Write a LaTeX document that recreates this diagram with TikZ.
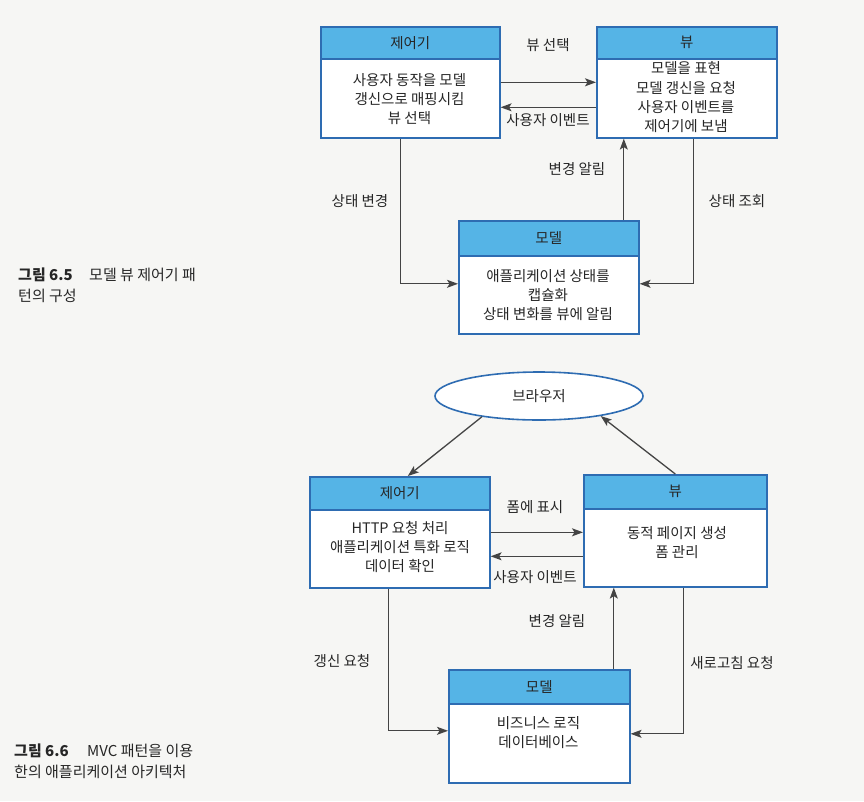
\documentclass[tikz,border=0pt]{standalone}
\usepackage{fontspec}
\setmainfont{Noto Sans CJK KR}
\usetikzlibrary{arrows.meta,shapes.geometric}
\definecolor{hdrblue}{HTML}{55B4E6}
\definecolor{edgeblue}{HTML}{2E6CB2}
\definecolor{ink}{HTML}{262626}
\definecolor{wire}{HTML}{444444}
\definecolor{paper}{HTML}{F6F6F4}
\begin{document}
\begin{tikzpicture}[x=1pt,y=-1pt,
  font=\fontsize{14.5}{19.3}\selectfont, text=ink,
  box/.style={draw=edgeblue, line width=1.6pt, fill=white, anchor=north west, inner sep=0pt},
  hdr/.style={draw=edgeblue, line width=1.6pt, fill=hdrblue, anchor=north west, inner sep=0pt},
  body/.style={align=center, inner sep=0pt},
  flow/.style={draw=wire, line width=1.3pt, -{Stealth[length=11pt,width=8pt,inset=2.5pt]}},
  lbl/.style={inner sep=0pt},
  captext/.style={inner sep=0pt, anchor=west, font=\fontsize{15}{19}\selectfont}
]
\fill[paper] (0,0) rectangle (864,801);
\useasboundingbox (0,0) rectangle (864,801);

% ---------- Figure 6.5: model / view / controller ----------
\node[box, minimum width=179pt, minimum height=111pt] (c1) at (320,26) {};
\node[hdr, minimum width=179pt, minimum height=32pt] (c1h) at (c1.north west) {제어기};
\node[body] (c1t) at (409.5,99) {사용자 동작을 모델\\갱신으로 매핑시킴\\뷰 선택};

\node[box, minimum width=180pt, minimum height=111pt] (v1) at (596,26) {};
\node[hdr, minimum width=180pt, minimum height=32pt] (v1h) at (v1.north west) {뷰};
\node[body] (v1t) at (686,97.5) {모델을 표현\\모델 갱신을 요청\\사용자 이벤트를\\제어기에 보냄};

\node[box, minimum width=180pt, minimum height=113pt] (m1) at (458,220) {};
\node[hdr, minimum width=180pt, minimum height=35pt] (m1h) at (m1.north west) {모델};
\node[body] (m1t) at (548,295) {애플리케이션 상태를\\캡슐화\\상태 변화를 뷰에 알림};

\draw[flow] (c1.east) -- (v1.west);
\draw[flow] ([yshift=-25pt]v1.west) -- ([yshift=-25pt]c1.east);
\draw[flow] ([xshift=-9.5pt]c1.south) |- ([yshift=-6.5pt]m1.west);
\draw[flow] ([xshift=75pt]m1.north) -- ([xshift=75pt]m1.north |- v1.south);
\draw[flow] ([xshift=7pt]v1.south) |- ([yshift=-6.5pt]m1.east);

\node[lbl] (l1a) at (548,45) {뷰 선택};
\node[lbl] (l1b) at (548,120) {사용자 이벤트};
\node[lbl] (l1c) at (577,169) {변경 알림};
\node[lbl] (l1d) at (360,201) {상태 변경};
\node[lbl] (l1e) at (737,201) {상태 조회};

\node[captext] (cap1a) at (18,275) {\textbf{그림 6.5}};
\node[captext] (cap1b) at (89,275) {모델 뷰 제어기 패};
\node[captext] (cap1c) at (18,296) {턴의 구성};

% ---------- Figure 6.6: MVC web application ----------
\node[ellipse, draw=edgeblue, line width=1.6pt, fill=white, minimum width=208pt, minimum height=48pt, inner sep=0pt] (br) at (539,396) {브라우저};

\node[box, minimum width=180pt, minimum height=111pt] (c2) at (309,476) {};
\node[hdr, minimum width=180pt, minimum height=33pt] (c2h) at (c2.north west) {제어기};
\node[body] (c2t) at (400,547) {HTTP 요청 처리\\애플리케이션 특화 로직\\데이터 확인};

\node[box, minimum width=183pt, minimum height=112pt] (v2) at (583,474) {};
\node[hdr, minimum width=183pt, minimum height=34pt] (v2h) at (v2.north west) {뷰};
\node[body] (v2t) at (677,542.5) {동적 페이지 생성\\폼 관리};

\node[box, minimum width=181pt, minimum height=113pt] (m2) at (448,669) {};
\node[hdr, minimum width=181pt, minimum height=34pt] (m2h) at (m2.north west) {모델};
\node[body] (m2t) at (538.5,732.5) {비즈니스 로직\\데이터베이스};

\draw[flow] (br.200) -- ([xshift=8pt]c2.north);
\draw[flow] (v2.north) -- (br.342);
\draw[flow] (c2.east) -- (c2.east -| v2.west);
\draw[flow] ([yshift=-24pt]c2.east -| v2.west) -- ([yshift=-24pt]c2.east);
\draw[flow] ([xshift=-11pt]c2.south) |- ([yshift=-4.5pt]m2.west);
\draw[flow] ([xshift=74.5pt]m2.north) -- ([xshift=74.5pt]m2.north |- v2.south);
\draw[flow] ([xshift=8.5pt]v2.south) |- ([yshift=-7.5pt]m2.east);

\node[lbl] (l2a) at (535,507) {폼에 표시};
\node[lbl] (l2b) at (535,577) {사용자 이벤트};
\node[lbl] (l2c) at (557,621) {변경 알림};
\node[lbl] (l2d) at (342,661) {갱신 요청};
\node[lbl] (l2e) at (732,663) {새로고침 요청};

\node[captext] (cap2a) at (14,751) {\textbf{그림 6.6}};
\node[captext] (cap2b) at (87,751) {MVC 패턴을 이용};
\node[captext] (cap2c) at (14,772) {한의 애플리케이션 아키텍처};
\end{tikzpicture}
\end{document}
